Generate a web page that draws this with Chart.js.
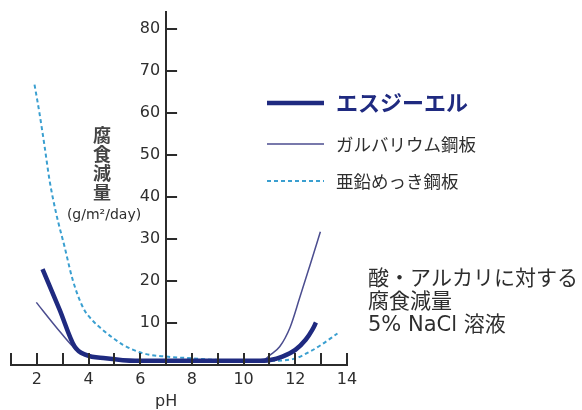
<!DOCTYPE html>
<html>
<head>
<meta charset="utf-8">
<script src="https://cdn.jsdelivr.net/npm/chart.js@4.4.1/dist/chart.umd.min.js"></script>
<style>
  html, body { margin: 0; padding: 0; background: #fff; }
</style>
</head>
<body>
<canvas id="corrosion-chart" width="582" height="410"></canvas>
<script>
// Corrosion loss (g/m2/day) against pH
const sglPh   = [2.22, 2.88, 3.46, 3.9, 4.66, 5.8, 8.0, 10.5, 11.03, 11.5, 12.0, 12.4, 12.65, 12.8];
const sglLoss = [22.8, 13.2, 4.4, 2.4, 1.6, 1.0, 1.0, 1.0, 1.2, 2.0, 3.6, 6.0, 8.3, 10.1];

const galvPh   = [1.98, 2.75, 3.46, 3.9, 4.66, 6.0, 8.0, 10.7, 11.03, 11.4, 11.8, 12.16, 12.55, 12.97];
const galvLoss = [14.9, 9.0, 4.0, 2.3, 1.5, 1.0, 1.0, 1.0, 2.4, 4.4, 9.0, 15.8, 23.4, 31.7];

const zincPh   = [1.91, 2.1, 2.3, 2.49, 2.75, 3.07, 3.39, 3.8, 4.17, 4.5, 5.0, 5.33, 6.1, 7.0, 8.0, 9.0, 10.0, 11.0, 11.9, 12.6, 13.0, 13.63];
const zincLoss = [66.7, 60, 52, 44, 36, 28.2, 20.2, 13.5, 10.5, 8.6, 6.2, 4.8, 2.8, 2.0, 1.6, 1.2, 1.0, 1.0, 1.4, 3.3, 4.8, 7.5];

const xTickLabels = [2, 4, 6, 8, 10, 12, 14];
const yTickLabels = [10, 20, 30, 40, 50, 60, 70, 80];

const seriesNames = ['エスジーエル', 'ガルバリウム鋼板', '亜鉛めっき鋼板'];
const noteLines = ['酸・アルカリに対する', '腐食減量', '5% NaCl 溶液'];
const yTitleChars = ['腐', '食', '減', '量'];
const yUnit = '(g/m²/day)';

const colors = { sgl: '#1f2a80', galv: '#4b4d8f', zinc: '#3a9fd0', axis: '#2b2b2b', text: '#2e2e2e' };
const latinFont = '"DejaVu Sans", "Noto Sans CJK JP", sans-serif';
const cjkFont = '"Noto Sans CJK JP", "DejaVu Sans", sans-serif';

function toPoints(xs, ys) {
    return xs.map((v, i) => ({ x: v, y: ys[i] }));
}

// Inward tick marks, y labels, legend and the side notes
const decorations = {
    id: 'decorations',
    afterDraw(chart) {
        const { ctx, scales: { x, y } } = chart;
        const axisX = x.getPixelForValue(7);
        const base = chart.chartArea.bottom;

        ctx.save();
        ctx.strokeStyle = colors.axis;
        ctx.lineWidth = 2;
        ctx.beginPath();
        x.ticks.forEach((t) => {
            const px = Math.round(x.getPixelForValue(t.value));
            ctx.moveTo(px, base);
            ctx.lineTo(px, base - 12);
        });
        yTickLabels.forEach((v) => {
            const py = Math.round(y.getPixelForValue(v));
            ctx.moveTo(axisX, py);
            ctx.lineTo(axisX + 11, py);
        });
        ctx.stroke();

        ctx.fillStyle = colors.text;
        ctx.font = '16px ' + latinFont;
        ctx.textAlign = 'right';
        ctx.textBaseline = 'middle';
        yTickLabels.forEach((v) => {
            ctx.fillText(String(v), axisX - 6, y.getPixelForValue(v));
        });

        ctx.textAlign = 'center';
        ctx.fillText('pH', axisX, 402);

        // y axis title, written top to bottom
        ctx.fillStyle = '#444';
        ctx.font = 'bold 18px ' + cjkFont;
        yTitleChars.forEach((c, i) => {
            ctx.fillText(c, 102, 135 + i * 19);
        });
        ctx.fillStyle = colors.text;
        ctx.font = '14px ' + latinFont;
        ctx.fillText(yUnit, 104, 215);

        // legend
        const legendRows = [
            { y: 103, color: colors.sgl, width: 4.5, dash: [], font: 'bold 22px ' + cjkFont, textColor: colors.sgl },
            { y: 144, color: colors.galv, width: 1.5, dash: [], font: '17.5px ' + cjkFont, textColor: colors.text },
            { y: 181, color: colors.zinc, width: 2, dash: [4, 3], font: '17.5px ' + cjkFont, textColor: colors.text }
        ];
        legendRows.forEach((row, i) => {
            ctx.beginPath();
            ctx.setLineDash(row.dash);
            ctx.strokeStyle = row.color;
            ctx.lineWidth = row.width;
            ctx.moveTo(267, row.y);
            ctx.lineTo(324, row.y);
            ctx.stroke();
            ctx.setLineDash([]);
            ctx.fillStyle = row.textColor;
            ctx.font = row.font;
            ctx.textAlign = 'left';
            ctx.fillText(seriesNames[i], 336, row.y);
        });

        // notes on the right
        ctx.fillStyle = colors.text;
        ctx.font = '21px ' + latinFont;
        ctx.textAlign = 'left';
        noteLines.forEach((line, i) => {
            ctx.fillText(line, 368, 280 + i * 23);
        });
        ctx.restore();
    }
};

const chart = new Chart(document.getElementById('corrosion-chart'), {
    type: 'line',
    data: {
        datasets: [
            {
                label: seriesNames[0],
                data: toPoints(sglPh, sglLoss),
                borderColor: colors.sgl,
                borderWidth: 4.5,
                order: 0
            },
            {
                label: seriesNames[1],
                data: toPoints(galvPh, galvLoss),
                borderColor: colors.galv,
                borderWidth: 1.5,
                order: 1
            },
            {
                label: seriesNames[2],
                data: toPoints(zincPh, zincLoss),
                borderColor: colors.zinc,
                borderWidth: 2,
                borderDash: [4, 3],
                order: 2
            }
        ]
    },
    options: {
        responsive: false,
        animation: false,
        elements: {
            point: { radius: 0 },
            line: { cubicInterpolationMode: 'monotone', borderCapStyle: 'butt' }
        },
        layout: { padding: { left: 11, right: 235, top: 12, bottom: 0 } },
        plugins: {
            legend: { display: false },
            tooltip: { enabled: false }
        },
        scales: {
            x: {
                type: 'linear',
                min: 1,
                max: 14,
                grid: { display: false, drawTicks: false },
                border: { display: true, color: colors.axis, width: 2 },
                ticks: {
                    stepSize: 1,
                    autoSkip: false,
                    maxRotation: 0,
                    padding: 5,
                    color: colors.text,
                    font: { family: latinFont, size: 16 },
                    callback: (v) => (xTickLabels.includes(v) ? String(v) : '')
                },
                afterFit: (scale) => { scale.height = 45; }
            },
            y: {
                type: 'linear',
                position: { x: 7 },
                min: 0,
                max: 84,
                grid: { display: false, drawTicks: false },
                border: { display: true, color: colors.axis, width: 2 },
                ticks: { display: false, stepSize: 10 }
            }
        }
    },
    plugins: [decorations]
});
</script>
</body>
</html>
